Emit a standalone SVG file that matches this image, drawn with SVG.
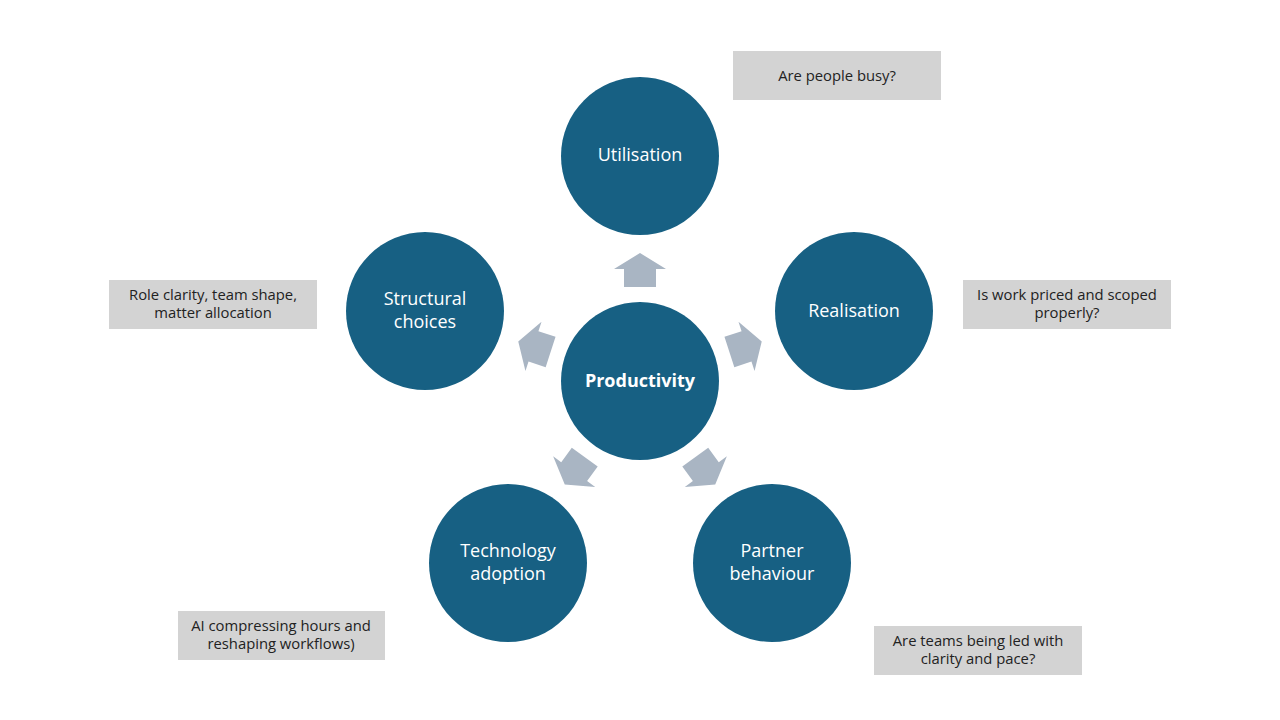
<svg xmlns="http://www.w3.org/2000/svg" width="1280" height="720" viewBox="0 0 1280 720">
<defs>
<style>
.c{fill:#176083}
.ct{fill:#ffffff;font-family:"Open Sans","Liberation Sans",sans-serif;font-size:18px;text-anchor:middle}
.b{fill:#d3d3d3}
.bt{fill:#222222;font-family:"Open Sans","Liberation Sans",sans-serif;font-size:14.8px;text-anchor:middle}
.a{fill:#a9b5c3}
</style>
<polygon id="arr" points="0,-128 26,-112 16,-112 16,-94 -16,-94 -16,-112 -26,-112"/>
</defs>
<rect width="1280" height="720" fill="#ffffff"/>
<g id="connectors">
<use href="#arr" class="a" transform="translate(640,381) rotate(0)"/>
<use href="#arr" class="a" transform="translate(640,381) rotate(72)"/>
<use href="#arr" class="a" transform="translate(640,381) rotate(144)"/>
<use href="#arr" class="a" transform="translate(640,381) rotate(216)"/>
<use href="#arr" class="a" transform="translate(640,381) rotate(288)"/>
</g>
<g id="productivity">
<circle class="c" cx="640" cy="381" r="79"/>
<text class="ct" x="640" y="387" font-weight="bold">Productivity</text>
</g>
<g id="utilisation">
<circle class="c" cx="640" cy="156" r="79"/>
<text class="ct" x="640" y="161">Utilisation</text>
</g>
<g id="realisation">
<circle class="c" cx="854" cy="311" r="79"/>
<text class="ct" x="854" y="317">Realisation</text>
</g>
<g id="partner">
<circle class="c" cx="772" cy="563" r="79"/>
<text class="ct" x="772" y="557">Partner</text>
<text class="ct" x="772" y="580">behaviour</text>
</g>
<g id="technology">
<circle class="c" cx="508" cy="563" r="79"/>
<text class="ct" x="508" y="557">Technology</text>
<text class="ct" x="508" y="580">adoption</text>
</g>
<g id="structural">
<circle class="c" cx="425" cy="311" r="79"/>
<text class="ct" x="425" y="305">Structural</text>
<text class="ct" x="425" y="328">choices</text>
</g>
<g id="box-utilisation">
<rect class="b" x="733" y="51" width="208" height="49"/>
<text class="bt" x="837" y="81">Are people busy?</text>
</g>
<g id="box-realisation">
<rect class="b" x="963" y="280" width="208" height="49"/>
<text class="bt" x="1067" y="300">Is work priced and scoped</text>
<text class="bt" x="1067" y="318">properly?</text>
</g>
<g id="box-structural">
<rect class="b" x="109" y="280" width="208" height="49"/>
<text class="bt" x="213" y="300">Role clarity, team shape,</text>
<text class="bt" x="213" y="318">matter allocation</text>
</g>
<g id="box-technology">
<rect class="b" x="178" y="611" width="207" height="49"/>
<text class="bt" x="281" y="631">AI compressing hours and</text>
<text class="bt" x="281" y="649">reshaping workflows)</text>
</g>
<g id="box-partner">
<rect class="b" x="874" y="626" width="208" height="49"/>
<text class="bt" x="978" y="646">Are teams being led with</text>
<text class="bt" x="978" y="664">clarity and pace?</text>
</g>
</svg>
